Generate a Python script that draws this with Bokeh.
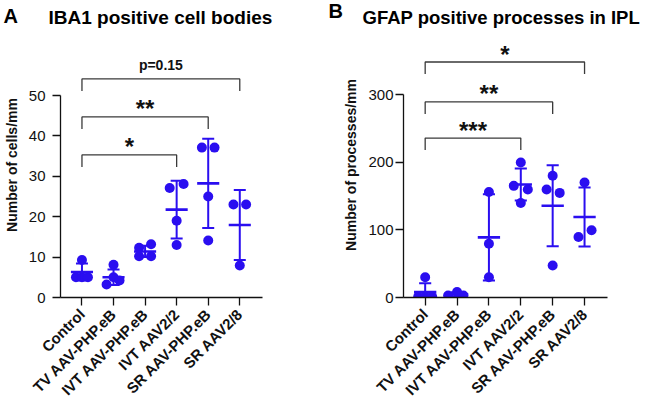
import math
from bokeh.plotting import figure
from bokeh.layouts import row, column
from bokeh.models import FixedTicker, Label, Range1d
from bokeh.embed import file_html
from bokeh.resources import INLINE

groups = ["Control", "TV AAV-PHP.eB", "IVT AAV-PHP.eB", "IVT AAV2/2", "SR AAV-PHP.eB", "SR AAV2/8"]

# Panel A: IBA1 positive cell bodies (cells/mm)
iba1_control = [9.3, 5.0, 5.0, 5.0]
iba1_tv_php = [8.1, 5.0, 3.2, 4.2]
iba1_ivt_php = [12.3, 13.2, 10.2, 10.2]
iba1_ivt_22 = [27.1, 28.1, 19.0, 13.0]
iba1_sr_php = [37.1, 37.1, 25.0, 14.1]
iba1_sr_28 = [23.0, 23.0, 7.9]
iba1_mean = [6.3, 5.0, 11.4, 21.75, 28.25, 17.95]
iba1_sd = [2.1, 1.9, 1.4, 7.15, 11.05, 8.65]
iba1_yticks = [0, 10, 20, 30, 40, 50]
iba1_pairs = [(0, 3), (0, 4), (0, 5)]
iba1_labels = ["*", "**", "p=0.15"]
iba1_bracket_y = [35.3, 44.7, 54.1]

# Panel B: GFAP positive processes in IPL (processes/mm)
gfap_control = [30, 1, 1, 1]
gfap_tv_php = [3, 8, 3]
gfap_ivt_php = [156, 79.5, 30]
gfap_ivt_22 = [199.5, 165, 159.5, 139.7]
gfap_sr_php = [179.8, 159.5, 154.6, 47.4]
gfap_sr_28 = [170, 89.4, 99.3]
gfap_mean = [7.9, 4.7, 88.9, 167.0, 135.6, 119.0]
gfap_sd = [13.0, 2.9, 63.7, 23.6, 60.0, 43.5]
gfap_yticks = [0, 100, 200, 300]
gfap_pairs = [(0, 3), (0, 4), (0, 5)]
gfap_labels = ["***", "**", "*"]
gfap_bracket_y = [235.6, 289.0, 348.0]

# layout-only horizontal spread of overlapping points (category units)
iba1_spread = [[0, -0.19, 0, 0.19], [0, 0, -0.22, 0.19], [-0.19, 0.19, -0.19, 0.19],
               [-0.22, 0.22, 0, 0], [-0.2, 0.2, 0, 0], [-0.2, 0.2, 0]]
gfap_spread = [[0, -0.22, 0, 0.22], [-0.28, 0, 0.2], [0, 0, 0],
               [0, -0.22, 0.22, 0], [0, -0.19, 0.22, 0], [0, -0.19, 0.22]]

BLUE = "#2a0ef0"
FONT = "Liberation Sans"
PANEL_W = 325
STRIP_H = 32
FIG_H = 379
FRAME_H = 265
FRAME_W = 204
X0, X1 = -0.68, 5.72


def title_strip(letter, letter_x, letter_mid, title, title_x, title_mid, title_size):
    t = figure(width=PANEL_W, height=STRIP_H, output_backend="svg", toolbar_location=None,
               title=None, x_range=Range1d(0, PANEL_W), y_range=Range1d(0, STRIP_H),
               x_axis_type=None, y_axis_type=None,
               min_border_left=0, min_border_right=0, min_border_top=0, min_border_bottom=0)
    t.outline_line_color = None
    t.xgrid.visible = False
    t.ygrid.visible = False
    t.add_layout(Label(x=letter_x, y=STRIP_H - letter_mid, text=letter,
                       text_font=FONT, text_font_style="bold", text_font_size="20px",
                       text_baseline="middle", text_color="#000000"))
    t.add_layout(Label(x=title_x, y=STRIP_H - title_mid, text=title,
                       text_font=FONT, text_font_style="bold", text_font_size=title_size,
                       text_baseline="middle", text_color="#000000"))
    return t


def panel(point_lists, spread, means, sds, yticks, ppu, ylabel,
          pairs, labels, bracket_y, min_left, tick_standoff, label_standoff):
    p = figure(width=PANEL_W, height=FIG_H, output_backend="svg", toolbar_location=None,
               title=None, x_range=Range1d(X0, X1), y_range=Range1d(0, FRAME_H / ppu),
               min_border_left=min_left, min_border_right=PANEL_W - min_left - FRAME_W,
               min_border_top=0, min_border_bottom=FIG_H - FRAME_H)
    p.outline_line_color = None
    p.xgrid.visible = False
    p.ygrid.visible = False
    p.background_fill_color = "white"
    p.border_fill_color = "white"

    # points
    xs, ys = [], []
    for i, vals in enumerate(point_lists):
        for j, v in enumerate(vals):
            xs.append(i + spread[i][j])
            ys.append(v)
    p.scatter(xs, ys, size=10, fill_color=BLUE, line_color=None)

    # mean and SD bars
    idx = list(range(len(means)))
    lo = [m - s for m, s in zip(means, sds)]
    hi = [m + s for m, s in zip(means, sds)]
    p.segment(idx, lo, idx, hi, line_color=BLUE, line_width=2)
    p.segment([i - 0.19 for i in idx], hi, [i + 0.19 for i in idx], hi, line_color=BLUE, line_width=2)
    p.segment([i - 0.19 for i in idx], lo, [i + 0.19 for i in idx], lo, line_color=BLUE, line_width=2)
    p.segment([i - 0.35 for i in idx], means, [i + 0.35 for i in idx], means, line_color=BLUE, line_width=2.6)

    # significance brackets
    drop = 12 / ppu
    bx, by = [], []
    for (a, b), y in zip(pairs, bracket_y):
        bx.append([a, a, b, b])
        by.append([y - drop, y, y, y - drop])
    p.multi_line(bx, by, line_color="#3a3a3a", line_width=1.3)
    for (a, b), y, t in zip(pairs, bracket_y, labels):
        star = t.startswith("*")
        p.add_layout(Label(x=(a + b) / 2, y=y, text=t, text_align="center",
                           text_baseline="middle", y_offset=8 if star else 14,
                           text_font=FONT, text_font_style="bold",
                           text_font_size="24px" if star else "14px", text_color="#111111"))

    # axes
    p.xaxis.ticker = FixedTicker(ticks=list(range(len(groups))))
    p.xaxis.major_label_overrides = {i: g for i, g in enumerate(groups)}
    p.xaxis.major_label_orientation = math.pi / 4
    p.xaxis.major_label_text_font = FONT
    p.xaxis.major_label_text_font_style = "bold"
    p.xaxis.major_label_text_font_size = "15px"
    p.xaxis.major_label_text_color = "#111111"
    p.xaxis.major_label_standoff = 6
    p.xaxis.minor_tick_line_color = None

    p.yaxis.ticker = FixedTicker(ticks=yticks)
    p.yaxis.bounds = (yticks[0], yticks[-1])
    p.yaxis.axis_label = ylabel
    p.yaxis.axis_label_text_font = FONT
    p.yaxis.axis_label_text_font_style = "bold"
    p.yaxis.axis_label_text_font_size = "14px"
    p.yaxis.axis_label_text_color = "#111111"
    p.yaxis.axis_label_standoff = label_standoff
    p.yaxis.major_label_text_font = FONT
    p.yaxis.major_label_text_font_size = "15px"
    p.yaxis.major_label_text_color = "#111111"
    p.yaxis.major_label_standoff = tick_standoff
    p.yaxis.minor_tick_line_color = None

    for ax in (p.xaxis, p.yaxis):
        ax.axis_line_color = "#111111"
        ax.axis_line_width = 1.3
        ax.major_tick_line_color = "#111111"
        ax.major_tick_line_width = 1.3
        ax.major_tick_in = 0
        ax.major_tick_out = 8
    return p


ta = title_strip("A", 3, 15, "IBA1 positive cell bodies", 48, 16.5, "19px")
tb = title_strip("B", 3, 10.5, "GFAP positive processes in IPL", 37, 16.5, "18.5px")

pa = panel([iba1_control, iba1_tv_php, iba1_ivt_php, iba1_ivt_22, iba1_sr_php, iba1_sr_28],
           iba1_spread, iba1_mean, iba1_sd, iba1_yticks, 202 / 50, "Number of cells/mm",
           iba1_pairs, iba1_labels, iba1_bracket_y, 58, 7, 6)

pb = panel([gfap_control, gfap_tv_php, gfap_ivt_php, gfap_ivt_22, gfap_sr_php, gfap_sr_28],
           gfap_spread, gfap_mean, gfap_sd, gfap_yticks, 203 / 300, "Number of processes/mm",
           gfap_pairs, gfap_labels, gfap_bracket_y, 78, 2, 6)

layout = column(row(ta, tb), row(pa, pb), spacing=0)
open("out.html", "w").write(file_html(layout, INLINE))
